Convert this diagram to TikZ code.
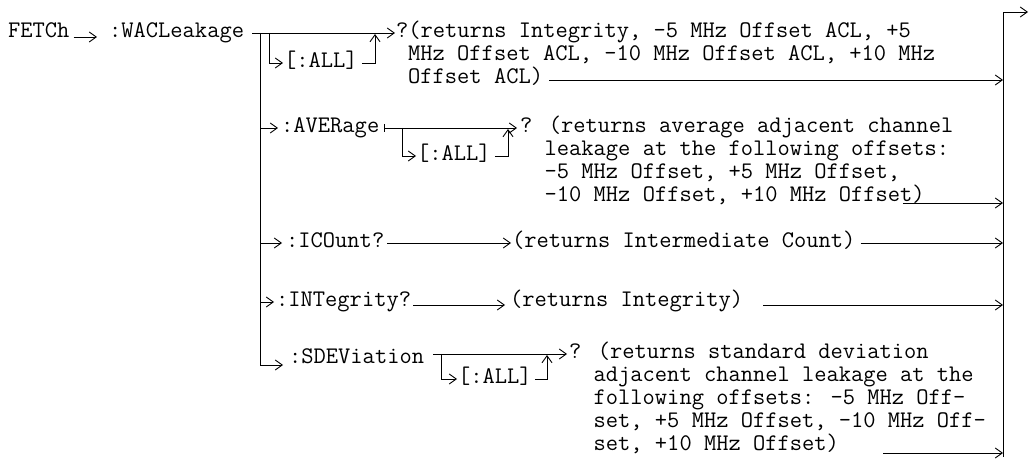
\documentclass[tikz,border=0pt]{standalone}
\usetikzlibrary{arrows.meta,calc}
\tikzset{
  txt/.style={font=\ttfamily\fontsize{23.8}{23}\selectfont, inner sep=0pt,
    text height=12pt, text depth=2pt, anchor=base west},
  rail/.style={line width=0.9pt},
  arr/.style={rail, -{Straight Barb[length=7pt,width=10pt]}},
}
\begin{document}
\begin{tikzpicture}[x=1pt,y=-1pt]
  \useasboundingbox (0,0) rectangle (1031,462);
  % rails
  \coordinate (lrail) at (260,33);
  \coordinate (rrail) at (1003,12);
  % FETCh :WACLeakage
  \node[txt] (fetch) at (8,38) {FETCh};
  \node[txt] (wac) at (109,38) {:WACLeakage};
  \draw[arr] ($(fetch.east)+(4,4)$) -- ($(wac.west)+(-12,4)$);
  \node[txt] (wacq) at (396,38) {?(returns Integrity, -5 MHz Offset ACL, +5};
  \node[txt] (wac2) at (408,61) {MHz Offset ACL, -10 MHz Offset ACL, +10 MHz};
  \node[txt] (wac3) at (408,84) {Offset ACL)};
  \draw[arr] ($(wac.east)+(8,0)$) -- ($(wacq.west)+(-1,0)$);
  \node[txt] (wacall) at (284,68) {[:ALL]};
  \draw[arr] (269,33) |- ($(wacall.west)+(-1,0)$);
  \draw[arr] ($(wacall.east)+(4,0)$) -| (375,34);
  \draw[arr] ($(wac3.east)+(6,1)$) -- ($(wac3.east -| rrail)+(0,1)$);
  % :AVERage
  \node[txt] (avg) at (281,133) {:AVERage};
  \draw[arr] (lrail |- avg.west) -- ($(avg.west)+(-3,0)$);
  \node[txt] (avgq) at (520,133) {? (returns average adjacent channel};
  \node[txt] (avg2) at (544.5,156) {leakage at the following offsets:};
  \node[txt] (avg3) at (544.5,179) {-5 MHz Offset, +5 MHz Offset,};
  \node[txt] (avg4) at (544.5,202) {-10 MHz Offset, +10 MHz Offset)};
  \draw[rail] (384,124) -- (384,132);
  \draw[arr] (384,128) -- ($(avgq.west)+(-3,0)$);
  \node[txt] (avgall) at (417,161) {[:ALL]};
  \draw[arr] (402,128) |- ($(avgall.west)+(-1,0)$);
  \draw[arr] ($(avgall.east)+(4,0)$) -| (508,129);
  \coordinate (avgout) at ($(avg4.base east)+(-22,1)$);
  \draw[arr] (avgout) -- (avgout -| rrail);
  % :ICOunt?
  \node[txt] (icnt) at (286,248) {:ICOunt?};
  \draw[arr] (lrail |- icnt.west) -- ($(icnt.west)+(-4,0)$);
  \node[txt] (icntr) at (512,248) {(returns Intermediate Count)};
  \draw[arr] ($(icnt.east)+(3,0)$) -- ($(icntr.west)+(-1,0)$);
  \draw[arr] ($(icntr.east)+(5,0)$) -- (icntr.east -| rrail);
  % :INTegrity?
  \node[txt] (intg) at (276,307) {:INTegrity?};
  \draw[arr] (lrail |- intg.west) -- ($(intg.west)+(-2,0)$);
  \node[txt] (intgr) at (510,307) {(returns Integrity)};
  \draw[arr] ($(intg.east)+(2,3)$) -- ($(intgr.west)+(-5,3)$);
  \coordinate (intgout) at ($(intgr.east)+(20,3)$);
  \draw[arr] (intgout) -- (intgout -| rrail);
  % :SDEViation
  \node[txt] (sdev) at (289,363) {:SDEViation};
  \draw[arr] (lrail) |- ($(sdev.west)+(-6,7)$);
  \node[txt] (sdevq) at (569,359) {? (returns standard deviation};
  \node[txt] (sdev2) at (593.5,381.75) {adjacent channel leakage at the};
  \node[txt] (sdev3) at (593.5,404.5) {following offsets: -5 MHz Off-};
  \node[txt] (sdev4) at (593.5,427.25) {set, +5 MHz Offset, -10 MHz Off-};
  \node[txt] (sdev5) at (593.5,450) {set, +10 MHz Offset)};
  \draw[arr] (433,354) -- ($(sdevq.west)+(-2,0)$);
  \node[txt] (sdevall) at (458,384) {[:ALL]};
  \draw[arr] (441,354) |- ($(sdevall.west)+(-1,0)$);
  \draw[arr] ($(sdevall.east)+(3,0)$) -| (547,355);
  \coordinate (sdevout) at ($(sdev5.base east)+(44,3)$);
  \draw[arr] (sdevout) -- (sdevout -| rrail);
  % right rail
  \draw[arr] (rrail |- 0,457) -- (rrail) -- ++(25,0);
\end{tikzpicture}
\end{document}
